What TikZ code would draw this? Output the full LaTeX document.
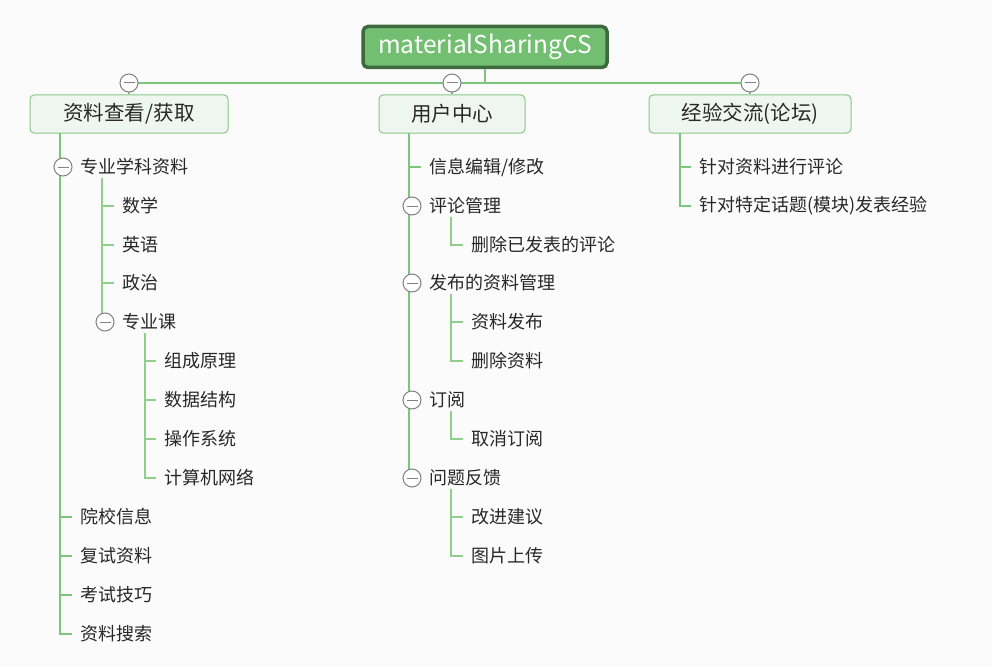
\documentclass[tikz,border=0pt]{standalone}
\usepackage{fontspec}
\usepackage{xcolor}
\usepackage{tikz}
\newfontfamily\cjk{Noto Sans CJK SC}

\definecolor{pagebg}{RGB}{251,251,251}
\definecolor{rootfill}{RGB}{114,191,114}
\definecolor{rootline}{RGB}{62,104,62}
\definecolor{topicfill}{RGB}{239,246,239}
\definecolor{topicline}{RGB}{135,200,135}
\definecolor{branchline}{RGB}{122,198,122}
\definecolor{foldgray}{RGB}{128,128,128}
\definecolor{textgray}{RGB}{40,40,40}

\begin{document}
\begin{tikzpicture}[x=1pt, y=-1pt, font=\cjk, text=textgray,
  root/.style={draw=rootline, line width=3.5pt, fill=rootfill, rounded corners=5pt,
    minimum width=244pt, minimum height=41pt, text=white, font=\cjk\fontsize{24.5}{28}\selectfont},
  topic/.style={draw=topicline, line width=1pt, fill=topicfill, rounded corners=4pt,
    minimum height=38pt, font=\cjk\fontsize{20.5}{24}\selectfont},
  leaf/.style={anchor=west, inner sep=0pt, font=\cjk\fontsize{18}{21}\selectfont},
  trunk/.style={draw=branchline, line width=1.6pt},
  twig/.style={draw=branchline!85!white, line width=1.3pt},
  fold/.style={circle, draw=foldgray, line width=1pt, fill=white, minimum size=18pt, inner sep=0pt,
    path picture={\draw[foldgray, line width=1pt] ([xshift=-5.5pt]path picture bounding box.center)
      -- ([xshift=5.5pt]path picture bounding box.center);}}]

  \fill[pagebg] (0,0) rectangle (992,666);
  \useasboundingbox (0,0) rectangle (992,666);

  % main topics
  \node[root] (root) at (485,47) {materialSharingCS};
  \node[topic, minimum width=198pt] (fetch) at (129,114) {资料查看/获取};
  \node[topic, minimum width=146pt] (user) at (452,114) {用户中心};
  \node[topic, minimum width=202pt] (forum) at (750,114) {经验交流(论坛)};

  \coordinate (hub) at (485,83);
  \draw[trunk] (root.south) -- (hub);
  \draw[trunk] (fetch.north) |- (hub);
  \draw[trunk] (forum.north) |- (hub);
  \draw[trunk] (user.north) |- (hub);

  % branch: 资料查看/获取
  \node[leaf] (major) at (80,167) {专业学科资料};
  \node[leaf] (math) at (122,206) {数学};
  \node[leaf] (eng) at (122,245) {英语};
  \node[leaf] (pol) at (122,283) {政治};
  \node[leaf] (course) at (122,322) {专业课};
  \node[leaf] (org) at (164,361) {组成原理};
  \node[leaf] (ds) at (164,400) {数据结构};
  \node[leaf] (os) at (164,439) {操作系统};
  \node[leaf] (net) at (164,478) {计算机网络};
  \node[leaf] (school) at (80,517) {院校信息};
  \node[leaf] (retest) at (80,556) {复试资料};
  \node[leaf] (skill) at (80,595) {考试技巧};
  \node[leaf] (search) at (80,634) {资料搜索};

  \coordinate (fetchs) at (60,133);
  \coordinate (majors) at (102,178);
  \coordinate (courses) at (145,333);
  \foreach \n in {major,school,retest,skill,search}
    \draw[trunk] (fetchs) |- ([xshift=-8pt]\n.west);
  \foreach \n in {math,eng,pol,course}
    \draw[twig] (majors) |- ([xshift=-8pt]\n.west);
  \foreach \n in {org,ds,os,net}
    \draw[twig] (courses) |- ([xshift=-8pt]\n.west);

  % branch: 用户中心
  \node[leaf] (edit) at (429,167) {信息编辑/修改};
  \node[leaf] (cmt) at (429,206) {评论管理};
  \node[leaf] (cmtdel) at (471,245) {删除已发表的评论};
  \node[leaf] (pub) at (429,283) {发布的资料管理};
  \node[leaf] (pubnew) at (471,322) {资料发布};
  \node[leaf] (pubdel) at (471,361) {删除资料};
  \node[leaf] (sub) at (429,400) {订阅};
  \node[leaf] (subno) at (471,439) {取消订阅};
  \node[leaf] (fb) at (429,478) {问题反馈};
  \node[leaf] (fbadv) at (471,517) {改进建议};
  \node[leaf] (fbimg) at (471,556) {图片上传};

  \coordinate (users) at (409,133);
  \foreach \n in {edit,cmt,pub,sub,fb}
    \draw[trunk] (users) |- ([xshift=-8pt]\n.west);
  \draw[twig] (451,217) |- ([xshift=-8pt]cmtdel.west);
  \foreach \n in {pubnew,pubdel}
    \draw[twig] (451,294) |- ([xshift=-8pt]\n.west);
  \draw[twig] (451,411) |- ([xshift=-8pt]subno.west);
  \foreach \n in {fbadv,fbimg}
    \draw[twig] (451,489) |- ([xshift=-8pt]\n.west);

  % branch: 经验交流(论坛)
  \node[leaf] (fcmt) at (699,167) {针对资料进行评论};
  \node[leaf] (fexp) at (699,206) {针对特定话题(模块)发表经验};

  \coordinate (forums) at (680,133);
  \foreach \n in {fcmt,fexp}
    \draw[trunk] (forums) |- ([xshift=-8pt]\n.west);

  % fold markers
  \foreach \n in {fetch,user,forum}
    \node[fold] at (\n.north |- hub) {};
  \foreach \n in {major,course,cmt,pub,sub,fb}
    \node[fold] at ([xshift=-17pt]\n.west) {};
\end{tikzpicture}
\end{document}
